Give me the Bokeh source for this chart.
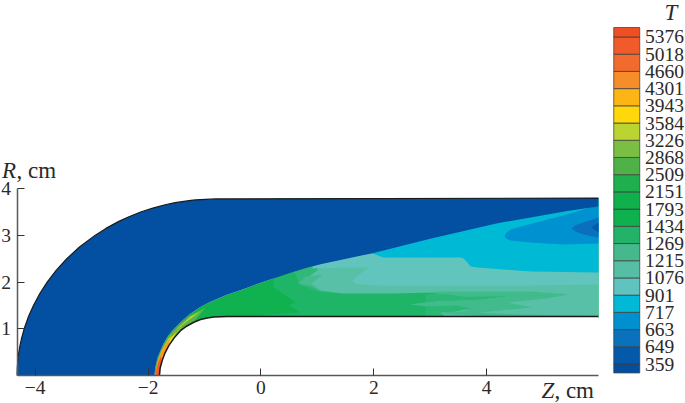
from bokeh.plotting import figure
from bokeh.embed import file_html
from bokeh.resources import INLINE
from bokeh.models import Range1d, FixedTicker
from bokeh.core.properties import value

# ---- colour bar
T_LABELS = ["359","649","663","717","901","1076","1215","1269","1434","1793","2151","2509","2868","3226","3584","3943","4301","4660","5018","5376"]
T_COLORS = ["#034EA0","#0459A8","#0A72BC","#0090D0","#00B9D6","#60C3C0","#55BEA5","#45B88C","#22B368","#0FB14F","#10B04D",
            "#1FAF4E","#4FB248","#7ABE43","#BAD532","#FFD80B","#FDB415","#F78D28","#F26B2E","#F15A29","#F04E23"]

# ---- geometry of the flow field, cm
OUTER_Z = [-4.32,-4.317,-4.309,-4.295,-4.275,-4.24,-4.195,-4.122,-4.03,-3.92,-3.787,-3.628,-3.44,-3.215,-2.94,-2.746,-2.517,-2.338,-2.13,-1.93,-1.715,-1.521,-1.24,-1.161,-0.8,5.98]
OUTER_R = [0,0.15,0.3,0.45,0.6,0.8,1.0,1.25,1.5,1.75,2.0,2.25,2.5,2.75,3.0,3.15,3.3,3.4,3.5,3.58,3.65,3.7,3.75,3.76,3.78,3.8]
WALL_Z = [-1.797,-1.785,-1.749,-1.70,-1.632,-1.54,-1.425,-1.31,-1.189,-1.07,-0.95,-0.835,-0.6,-0.42,5.98]
WALL_R = [0,0.16,0.32,0.48,0.64,0.80,0.96,1.06,1.14,1.20,1.23,1.25,1.262,1.263,1.263]
SHOCK_Z = [-1.885,-1.875,-1.855,-1.825,-1.78,-1.725,-1.66,-1.575,-1.48,-1.37,-1.25,-1.08,-0.893,-0.6,-0.3,-0.065,0.25,0.524,0.8,1.056,1.977,3.0,4.19,5.43,5.98]
SHOCK_R = [0,0.13,0.26,0.40,0.53,0.68,0.82,0.95,1.07,1.2,1.32,1.46,1.58,1.73,1.85,1.96,2.09,2.2,2.3,2.38,2.62,2.93,3.26,3.52,3.62]

P2_Z = [0.223,0.223,0.223,0.436,0.613,0.489,0.702,0.028,0.028,5.98,5.98,0.223]
P2_R = [2.249,2.077,1.884,1.713,1.563,1.499,1.349,1.296,1.22,1.22,3.79,3.79]
M_Z = [0.524,0.631,0.702,1.056,1.464,1.464,0.524]
M_R = [2.3,2.12,1.93,1.78,1.756,2.4,2.4]
P3_Z = [1.0,1.0,0.666,0.879,1.056,1.464,2.349,3.094,3.094,5.98,5.98,1.0]
P3_R = [2.677,2.25,1.97,1.927,1.82,1.756,1.756,1.777,1.22,1.22,3.79,3.79]
C1_Z = [0.666,0.79,1.091,0.896,1.056,0.879]
C1_R = [1.97,2.12,2.163,1.97,1.82,1.927]
P3B_Z = [3.094,4.777,5.468,5.043,4.369,4.812,3.855,4.6,5.98,5.98,4.245,3.182,3.714,2.916,2.651,3.005,3.59,3.767,4.422,3.59,3.359,3.094]
P3B_R = [1.799,1.799,1.734,1.649,1.563,1.456,1.349,1.306,1.274,1.242,1.242,1.328,1.392,1.478,1.52,1.585,1.606,1.606,1.702,1.692,1.734,1.756]
G1_Z = [2.916,3.094,3.359,3.59,4.422,3.767,3.59,3.005,2.916]
G1_R = [1.734,1.756,1.734,1.692,1.702,1.606,1.606,1.585,1.585]
G2_Z = [2.916,3.483,3.714,3.359,3.182,3.27,2.916]
G2_R = [1.478,1.499,1.435,1.349,1.349,1.253,1.253]
P5_Z = [0.914,0.914,1.464,1.906,1.694,1.623,1.694,2.066,3.182,4.777,5.98,5.98,0.914]
P5_R = [2.677,2.291,2.313,2.313,2.12,2.013,1.959,1.927,1.927,1.927,1.949,3.79,3.79]
P6_Z = [1.977,1.977,2.172,2.651,3.182,3.537,3.59,3.66,3.714,3.85,4.069,4.777,5.98,5.98,1.977]
P6_R = [2.891,2.612,2.527,2.527,2.527,2.527,2.505,2.42,2.334,2.31,2.291,2.227,2.206,3.79,3.79]
P7_Z = [4.316,4.352,4.436,4.547,5.007,5.485,5.84,5.98,5.98,5.361,4.777,4.422,4.352]
P7_R = [2.976,3.06,3.13,3.169,3.319,3.469,3.597,3.619,2.827,2.805,2.848,2.891,2.93]
P8_Z = [5.503,5.58,5.716,5.98,5.98,5.716,5.58]
P8_R = [3.148,3.22,3.276,3.383,2.955,3.019,3.08]
P9_Z = [5.857,5.98,5.98]
P9_R = [3.169,3.276,3.062]
H1_Z = [-1.885,-1.85,-1.779,-1.655,-1.478,-1.283,-0.982,-1.194,-1.425,-1.632,-1.749,-1.797]
H1_R = [0,0.257,0.535,0.814,1.049,1.263,1.456,1.141,0.964,0.642,0.321,0]
H2_Z = [-1.867,-1.832,-1.761,-1.637,-1.46,-1.247,-1.07,-1.336,-1.549,-1.69,-1.779,-1.797]
H2_R = [0,0.278,0.535,0.792,1.028,1.263,1.37,1.135,0.921,0.642,0.321,0]
H3_Z = [-1.858,-1.814,-1.744,-1.62,-1.478,-1.371,-1.495,-1.637,-1.744,-1.788]
H3_R = [0.064,0.321,0.535,0.771,0.964,1.06,0.931,0.642,0.364,0.064]
H4_Z = [-1.867,-1.841,-1.77,-1.708,-1.602,-1.637,-1.744,-1.788]
H4_R = [0,0.257,0.493,0.642,0.792,0.642,0.364,0]
H5_Z = [-1.867,-1.835,-1.814,-1.77,-1.761,-1.79]
H5_R = [0,0.214,0.3,0.407,0.364,0]

X_TICKS = [-4,-2,0,2,4]
Y_TICKS = [1,2,3,4]
FONT = "Liberation Serif"
SIZE = "19.5px"
TITLE_SIZE = "23px"
INK = "#2b2a29"

p = figure(width=685, height=403, output_backend="svg", toolbar_location=None,
           x_range=Range1d(-4.614, 7.523), y_range=Range1d(-0.6, 8.03),
           min_border_left=0, min_border_right=0, min_border_top=0, min_border_bottom=0,
           outline_line_color=None, background_fill_color="white")
p.grid.visible = False
p.extra_y_ranges = {"cb": Range1d(-2.295, 21.12)}
p.extra_x_ranges = {"cbx": Range1d(-23.59, 2.76)}

def fill(z, r, c):
    p.patch(z, r, fill_color=c, line_color=None)

fill(SHOCK_Z + WALL_Z[::-1], SHOCK_R + WALL_R[::-1], "#10B24F")
fill(P2_Z, P2_R, "#1EB566")
fill(M_Z, M_R, "#30B878")
fill(P3_Z, P3_R, "#58C0A6")
fill(C1_Z, C1_R, "#45BB8F")
fill(P3B_Z, P3B_R, "#42BB8C")
fill(G1_Z, G1_R, "#2BB774")
fill(G2_Z, G2_R, "#2BB774")
fill(P5_Z, P5_R, "#62C5BD")
fill(P6_Z, P6_R, "#00B9D5")
fill(P7_Z, P7_R, "#0091D0")
fill(P8_Z, P8_R, "#0A6FBC")
fill(P9_Z, P9_R, "#045AA8")
fill(H1_Z, H1_R, "#5CB548")
fill(H2_Z, H2_R, "#B8D432")
fill(H3_Z, H3_R, "#FFD80B")
fill(H4_Z, H4_R, "#FB9A1F")
fill(H5_Z, H5_R, "#F15A29")
fill(OUTER_Z + SHOCK_Z[::-1], OUTER_R + SHOCK_R[::-1], "#034FA2")
fill(WALL_Z + [WALL_Z[-1], WALL_Z[0]], WALL_R + [0, 0], "white")
p.line(OUTER_Z, OUTER_R, line_color="#1a1a1a", line_width=1.2)
p.line(WALL_Z, WALL_R, line_color="#1a1a1a", line_width=1.5)

# colour bar: bands between successive label positions
n = len(T_LABELS)
cb_bottom = [-0.52] + list(range(n))
cb_top = list(range(n)) + [n - 1 + 0.55]
p.quad(left=0, right=1, bottom=cb_bottom, top=cb_top, fill_color=T_COLORS,
       line_color="#3d3d3d", line_alpha=0.75, line_width=1, x_range_name="cbx", y_range_name="cb")
p.text(x=1.2, y=list(range(n)), text=T_LABELS, text_font=value(FONT), text_font_size=value(SIZE),
       text_color=INK, text_baseline="middle", text_align="left", x_range_name="cbx", y_range_name="cb")

# axes
xa = p.xaxis[0]
xa.ticker = FixedTicker(ticks=X_TICKS)
xa.major_label_overrides = {t: str(t).replace("-", "\u2212") for t in X_TICKS}
xa.bounds = (-4.32, 5.99)
xa.fixed_location = 0
ya = p.yaxis[0]
ya.ticker = FixedTicker(ticks=Y_TICKS)
ya.bounds = (0, 4)
ya.fixed_location = -4.32
for a in (xa, ya):
    a.axis_line_color = "#58595b"
    a.axis_line_width = 1.5
    a.major_tick_line_color = "#333333"
    a.major_tick_line_width = 1
    a.major_tick_in = 7
    a.major_tick_out = 0
    a.minor_tick_line_color = None
    a.major_label_text_font = FONT
    a.major_label_text_font_size = SIZE
    a.major_label_text_color = INK
xa.major_label_standoff = 6
ya.major_label_standoff = 6

def label(z, r, txt, italic=False):
    p.text([z], [r], text=[txt], text_font=value(FONT), text_font_size=value(TITLE_SIZE), text_color=INK,
           text_font_style="italic" if italic else "normal", text_baseline="middle", text_align="left")

label(-4.587, 4.39, "R", True)
label(-4.33, 4.39, ", cm")
label(4.97, -0.32, "Z", True)
label(5.2, -0.32, ", cm")
label(7.15, 7.77, "T", True)

open("out.html", "w").write(file_html(p, INLINE))
